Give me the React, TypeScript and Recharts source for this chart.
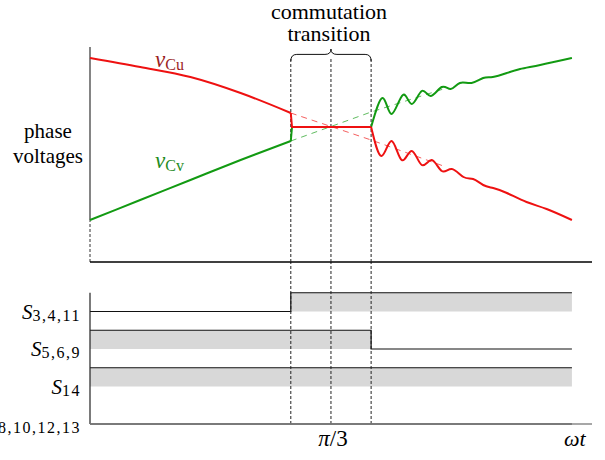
import React from 'react';
import {
  ComposedChart,
  Line,
  Area,
  XAxis,
  YAxis,
  ReferenceLine,
  ReferenceArea,
  ReferenceDot,
} from 'recharts';

// angle in degrees (omega t), voltages in arbitrary units
const cuBeforeX = [0, 12.5, 25, 37.5, 50];
const cuBeforeV = [2.04, 1.95, 1.85, 1.69, 1.49];
const cvBeforeX = [0, 12.5, 25, 37.5, 50];
const cvBeforeV = [0.42, 0.62, 0.82, 1.02, 1.21];

const cuStepX = [50, 50.3, 70];
const cuStepV = [1.49, 1.35, 1.35];
const cvStepX = [50, 50.3, 70];
const cvStepV = [1.21, 1.35, 1.35];

const cuAfterX = [70, 72.6, 75.1, 77.6, 80.1, 82.6, 85.1, 87.6, 90.1, 93, 95.4, 97.9, 100.4, 103.8, 108.7, 113.7, 120];
const cuAfterV = [1.35, 1.06, 1.21, 1.02, 1.11, 0.97, 1.02, 0.91, 0.93, 0.85, 0.83, 0.77, 0.74, 0.69, 0.6, 0.53, 0.42];
const cvAfterX = [70, 72.9, 75.1, 77.9, 80.1, 82.6, 84.8, 87.6, 89.8, 92.1, 95, 97.9, 100.3, 103.8, 107.1, 112.1, 120];
const cvAfterV = [1.35, 1.64, 1.48, 1.67, 1.58, 1.71, 1.66, 1.75, 1.73, 1.79, 1.79, 1.84, 1.85, 1.89, 1.93, 1.97, 2.04];

const cuTrendX = [50, 70, 88];
const cuTrendV = [1.49, 1.22, 0.96];
const cvTrendX = [50, 70, 88];
const cvTrendV = [1.21, 1.5, 1.73];

const commutationMarks = [50, 60, 70];

// switching states
const switchX = [0, 50, 70, 120];
const s3411 = [0, 1, 1, 1];
const s569 = [1, 1, 0, 0];
const s14 = [1, 1, 1, 1];
const s7 = [0, 0, 0, 0];
const switchLevels = [0, 1, 2, 3];
const switchNames = ['7,8,10,12,13', '14', '5,6,9', '3,4,11'];

const xTicks = [60, 120];

const RED = '#ee1111';
const GREEN = '#129a12';
const serifText = { fontFamily: 'serif' };

const toPoints = (xs: number[], vs: number[]) => xs.map((x, i) => ({ x, v: vs[i] }));

const switchData = switchX.map((x, i) => ({
  x,
  a: 3 + 0.5 * s3411[i],
  b: 2 + 0.5 * s569[i],
  c: 1 + 0.5 * s14[i],
  d: 0 + 0.5 * s7[i],
}));

const Brace = (props: any) => {
  const { x, y, width, height } = props;
  const cx = x + width / 2;
  const mid = y + height * 0.45;
  const r = 6;
  const d = `M${x},${y + height} Q${x},${mid} ${x + r},${mid} L${cx - r},${mid} Q${cx},${mid} ${cx},${y} Q${cx},${mid} ${cx + r},${mid} L${x + width - r},${mid} Q${x + width},${mid} ${x + width},${y + height}`;
  return (
    <g>
      <path d={d} fill="none" stroke="#111" strokeWidth={1} />
      <text x={cx - 2} y={y - 30} textAnchor="middle" fontSize={22} style={serifText} fill="#000">
        commutation
      </text>
      <text x={cx - 2} y={y - 8} textAnchor="middle" fontSize={22} style={serifText} fill="#000">
        transition
      </text>
    </g>
  );
};

const voltLabel = (sub: string, color: string) => (props: any) => (
  <text x={props.cx} y={props.cy} fill={color} style={serifText}>
    <tspan fontStyle="italic" fontSize={23}>v</tspan>
    <tspan fontSize={16} dy={3}>{sub}</tspan>
  </text>
);

const SwitchTick = (props: any) => {
  const { x, y, payload } = props;
  const idx = switchLevels.indexOf(payload.value);
  return (
    <text x={x} y={y + 7} textAnchor="end" fill="#000" style={serifText}>
      <tspan fontStyle="italic" fontSize={21}>S</tspan>
      <tspan fontSize={16} dy={2} letterSpacing={1.5}>{switchNames[idx]}</tspan>
    </text>
  );
};

const AngleTick = (props: any) => {
  const { x, y, payload } = props;
  if (payload.value === 120) {
    return (
      <text x={x + 3} y={y + 22} textAnchor="middle" fontSize={22} fontStyle="italic" style={serifText} fill="#000">
        ωt
      </text>
    );
  }
  return (
    <text x={x + 2} y={y + 22} textAnchor="middle" fontSize={23} style={serifText} fill="#000">
      <tspan fontStyle="italic">π</tspan>/3
    </text>
  );
};

export default function App() {
  return (
    <div style={{ position: 'absolute', left: 0, top: 0, width: 605, height: 460, fontFamily: 'serif', background: '#fff' }}>
      {/* switching states panel */}
      <div style={{ position: 'absolute', left: 0, top: 0 }}>
        <ComposedChart width={605} height={460} data={switchData} margin={{ top: 262, right: 13, bottom: 6, left: 8 }}>
          <XAxis
            dataKey="x"
            type="number"
            domain={[0, 125]}
            ticks={xTicks}
            tick={<AngleTick />}
            tickLine={false}
            tickSize={0}
            tickMargin={0}
            height={30}
            axisLine={{ stroke: '#8a8a8a', strokeWidth: 1.5 }}
          />
          <YAxis
            type="number"
            domain={[0, 4.32]}
            ticks={switchLevels}
            tick={<SwitchTick />}
            tickLine={false}
            tickSize={0}
            tickMargin={9}
            axisLine={false}
            width={82}
          />
          <ReferenceLine segment={[{ x: 0, y: 0 }, { x: 0, y: 3.5 }]} stroke="#222" strokeWidth={1.2} />
          <Area type="stepAfter" dataKey="a" baseValue={3} stroke="#111" strokeWidth={1.2} fill="#d8d8d8" fillOpacity={1} isAnimationActive={false} />
          <Area type="stepAfter" dataKey="b" baseValue={2} stroke="#111" strokeWidth={1.2} fill="#d8d8d8" fillOpacity={1} isAnimationActive={false} />
          <Area type="stepAfter" dataKey="c" baseValue={1} stroke="#111" strokeWidth={1.2} fill="#d8d8d8" fillOpacity={1} isAnimationActive={false} />
          <Area type="stepAfter" dataKey="d" baseValue={0} stroke="#111" strokeWidth={1.5} fill="#d8d8d8" fillOpacity={1} isAnimationActive={false} />
          {commutationMarks.map((m) => (
            <ReferenceLine key={m} x={m} stroke="#222" strokeDasharray="3 2" strokeWidth={1} />
          ))}
        </ComposedChart>
      </div>

      {/* phase voltages panel */}
      <div style={{ position: 'absolute', left: 0, top: 0 }}>
        <ComposedChart width={605} height={460} margin={{ top: 47, right: 13, bottom: 198, left: 90 }}>
          <XAxis dataKey="x" type="number" domain={[0, 125]} hide />
          <YAxis type="number" domain={[0, 2.15]} hide />
          <ReferenceLine segment={[{ x: 0, y: 0.42 }, { x: 0, y: 2.15 }]} stroke="#333" strokeWidth={1.2} />
          <ReferenceLine segment={[{ x: 0, y: 0 }, { x: 0, y: 0.42 }]} stroke="#333" strokeDasharray="3 2" strokeWidth={1} />
          <ReferenceLine y={0} stroke="#000" strokeWidth={1.5} />
          {commutationMarks.map((m) => (
            <ReferenceLine key={m} segment={[{ x: m, y: 0 }, { x: m, y: 2.03 }]} stroke="#222" strokeDasharray="3 2" strokeWidth={1} />
          ))}
          <ReferenceArea x1={50} x2={70} y1={2.01} y2={2.13} shape={<Brace />} />

          <Line data={toPoints(cuTrendX, cuTrendV)} dataKey="v" type="linear" stroke={RED} strokeOpacity={0.75} strokeWidth={0.9} strokeDasharray="6 5" dot={false} isAnimationActive={false} />
          <Line data={toPoints(cvTrendX, cvTrendV)} dataKey="v" type="linear" stroke={GREEN} strokeOpacity={0.75} strokeWidth={0.9} strokeDasharray="6 5" dot={false} isAnimationActive={false} />

          <Line data={toPoints(cvBeforeX, cvBeforeV)} dataKey="v" type="monotone" stroke={GREEN} strokeWidth={2} dot={false} isAnimationActive={false} />
          <Line data={toPoints(cvStepX, cvStepV)} dataKey="v" type="linear" stroke={GREEN} strokeWidth={2} dot={false} isAnimationActive={false} />
          <Line data={toPoints(cvAfterX, cvAfterV)} dataKey="v" type="natural" stroke={GREEN} strokeWidth={2} dot={false} isAnimationActive={false} />

          <Line data={toPoints(cuBeforeX, cuBeforeV)} dataKey="v" type="monotone" stroke={RED} strokeWidth={2} dot={false} isAnimationActive={false} />
          <Line data={toPoints(cuStepX, cuStepV)} dataKey="v" type="linear" stroke={RED} strokeWidth={2} dot={false} isAnimationActive={false} />
          <Line data={toPoints(cuAfterX, cuAfterV)} dataKey="v" type="natural" stroke={RED} strokeWidth={2} dot={false} isAnimationActive={false} />

          <ReferenceDot x={16.2} y={1.95} shape={voltLabel('Cu', '#9c1f1f')} />
          <ReferenceDot x={16.2} y={0.94} shape={voltLabel('Cv', '#1e8c1e')} />
        </ComposedChart>
      </div>

      <div
        style={{
          position: 'absolute',
          left: 0,
          top: 119,
          width: 96,
          textAlign: 'center',
          fontFamily: 'serif',
          fontSize: 21,
          lineHeight: '25px',
        }}
      >
        phase
        <br />
        voltages
      </div>
    </div>
  );
}
